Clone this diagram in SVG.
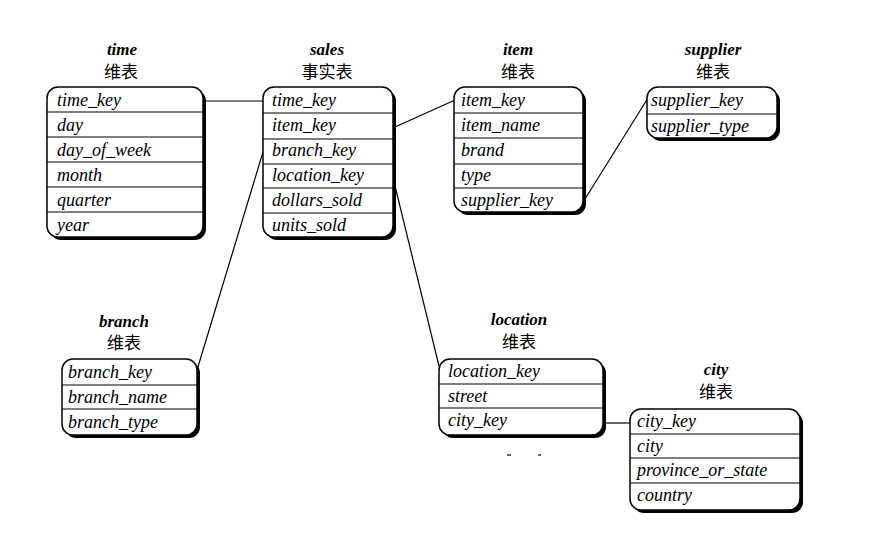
<svg xmlns="http://www.w3.org/2000/svg" width="893" height="537" viewBox="0 0 893 537">
<style>
.bg{fill:#fff}
.sh{fill:#000}
.box{fill:#fff;stroke:#000;stroke-width:1.5}
.sep{stroke:#000;stroke-width:1.2}
.f{font-family:"Liberation Serif","Times New Roman",serif;font-style:italic;font-size:18px;fill:#000}
.t{font-family:"Liberation Serif","Times New Roman",serif;font-style:italic;font-weight:bold;font-size:17px;fill:#000;text-anchor:middle}
.c{font-family:"Noto Sans CJK SC",sans-serif;font-size:17px;fill:#000;text-anchor:middle}
.ln{stroke:#000;stroke-width:1.2;fill:none}
</style>
<rect class="bg" x="0" y="0" width="893" height="537"/>
<g id="connectors">
<line class="ln" x1="203" y1="101" x2="263" y2="101"/>
<line class="ln" x1="395" y1="127" x2="455" y2="100"/>
<line class="ln" x1="585" y1="199" x2="648" y2="98"/>
<line class="ln" x1="263" y1="152" x2="197" y2="370"/>
<line class="ln" x1="395" y1="186" x2="439" y2="366"/>
<line class="ln" x1="603" y1="423" x2="630" y2="423"/>
</g>
<g id="time">
<text class="t" x="122" y="55">time</text>
<text class="c" x="121" y="78">维表</text>
<rect class="sh" x="50" y="90" width="156" height="150" rx="11"/>
<rect class="box" x="47" y="87" width="156" height="150" rx="11"/>
<line class="sep" x1="47" y1="112" x2="203" y2="112"/><line class="sep" x1="47" y1="137" x2="203" y2="137"/><line class="sep" x1="47" y1="162" x2="203" y2="162"/><line class="sep" x1="47" y1="187" x2="203" y2="187"/><line class="sep" x1="47" y1="212" x2="203" y2="212"/>
<text class="f" x="57" y="106">time_key</text><text class="f" x="57" y="131">day</text><text class="f" x="57" y="156">day_of_week</text><text class="f" x="57" y="181">month</text><text class="f" x="57" y="206">quarter</text><text class="f" x="57" y="231">year</text>
</g>
<g id="sales">
<text class="t" x="327" y="55">sales</text>
<text class="c" x="327" y="78">事实表</text>
<rect class="sh" x="266" y="90" width="130" height="150" rx="11"/>
<rect class="box" x="263" y="87" width="130" height="150" rx="11"/>
<line class="sep" x1="263" y1="113" x2="393" y2="113"/><line class="sep" x1="263" y1="139" x2="393" y2="139"/><line class="sep" x1="263" y1="164" x2="393" y2="164"/><line class="sep" x1="263" y1="188" x2="393" y2="188"/><line class="sep" x1="263" y1="213" x2="393" y2="213"/>
<text class="f" x="272" y="106">time_key</text><text class="f" x="272" y="131">item_key</text><text class="f" x="272" y="156">branch_key</text><text class="f" x="272" y="181">location_key</text><text class="f" x="272" y="206">dollars_sold</text><text class="f" x="272" y="231">units_sold</text>
</g>
<g id="item">
<text class="t" x="518" y="55">item</text>
<text class="c" x="518" y="78">维表</text>
<rect class="sh" x="457" y="90" width="129" height="125" rx="11"/>
<rect class="box" x="454" y="87" width="129" height="125" rx="11"/>
<line class="sep" x1="454" y1="113" x2="583" y2="113"/><line class="sep" x1="454" y1="138" x2="583" y2="138"/><line class="sep" x1="454" y1="164" x2="583" y2="164"/><line class="sep" x1="454" y1="188" x2="583" y2="188"/>
<text class="f" x="461" y="106">item_key</text><text class="f" x="461" y="131">item_name</text><text class="f" x="461" y="156">brand</text><text class="f" x="461" y="181">type</text><text class="f" x="461" y="206">supplier_key</text>
</g>
<g id="supplier">
<text class="t" x="713" y="55">supplier</text>
<text class="c" x="713" y="78">维表</text>
<rect class="sh" x="650" y="90" width="130" height="51" rx="11"/>
<rect class="box" x="647" y="87" width="130" height="51" rx="11"/>
<line class="sep" x1="647" y1="114" x2="777" y2="114"/>
<text class="f" x="651" y="106">supplier_key</text><text class="f" x="651" y="132">supplier_type</text>
</g>
<g id="branch">
<text class="t" x="124" y="327">branch</text>
<text class="c" x="124" y="349">维表</text>
<rect class="sh" x="65" y="362" width="135" height="76" rx="11"/>
<rect class="box" x="62" y="359" width="135" height="76" rx="11"/>
<line class="sep" x1="62" y1="385" x2="197" y2="385"/><line class="sep" x1="62" y1="409" x2="197" y2="409"/>
<text class="f" x="68" y="378">branch_key</text><text class="f" x="68" y="403">branch_name</text><text class="f" x="68" y="428">branch_type</text>
</g>
<g id="location">
<text class="t" x="519" y="325">location</text>
<text class="c" x="519" y="348">维表</text>
<rect class="sh" x="442" y="362" width="164" height="76" rx="11"/>
<rect class="box" x="439" y="359" width="164" height="76" rx="11"/>
<line class="sep" x1="439" y1="384" x2="603" y2="384"/><line class="sep" x1="439" y1="408" x2="603" y2="408"/>
<text class="f" x="448" y="377">location_key</text><text class="f" x="448" y="402">street</text><text class="f" x="448" y="426">city_key</text>
<line class="ln" x1="507" y1="455" x2="511" y2="455" stroke-width="2"/>
<line class="ln" x1="538" y1="455" x2="541" y2="455" stroke-width="2"/>
</g>
<g id="city">
<text class="t" x="716" y="375">city</text>
<text class="c" x="716" y="398">维表</text>
<rect class="sh" x="633" y="412" width="170" height="101" rx="11"/>
<rect class="box" x="630" y="409" width="170" height="101" rx="11"/>
<line class="sep" x1="630" y1="434" x2="800" y2="434"/><line class="sep" x1="630" y1="458" x2="800" y2="458"/><line class="sep" x1="630" y1="483" x2="800" y2="483"/>
<text class="f" x="637" y="427">city_key</text><text class="f" x="637" y="452">city</text><text class="f" x="637" y="476">province_or_state</text><text class="f" x="637" y="501">country</text>
</g>
</svg>
